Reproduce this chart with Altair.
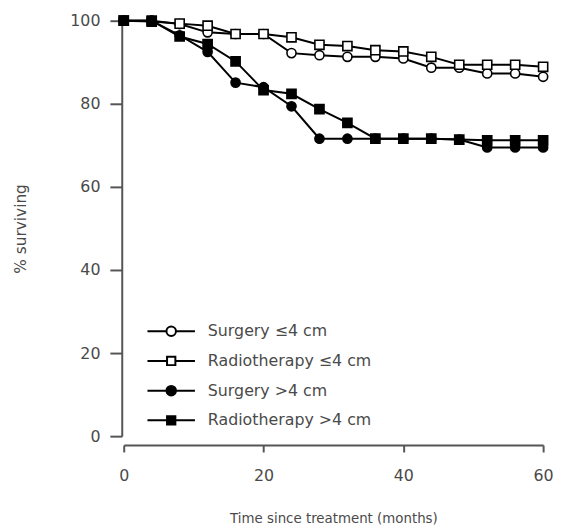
import altair as alt
import pandas as pd

months = [0, 4, 8, 12, 16, 20, 24, 28, 32, 36, 40, 44, 48, 52, 56, 60]
surgery_small = [100, 100, 99.2, 97.2, 96.8, 96.8, 92.2, 91.7, 91.3, 91.3, 90.9, 88.7, 88.7, 87.3, 87.3, 86.5]
radio_small = [100, 99.8, 99.3, 98.8, 96.8, 96.8, 96.0, 94.2, 93.9, 92.9, 92.6, 91.3, 89.4, 89.4, 89.4, 88.9]
surgery_large = [100, 100, 96.5, 92.5, 85.1, 84.0, 79.4, 71.6, 71.6, 71.6, 71.6, 71.6, 71.4, 69.5, 69.5, 69.5]
radio_large = [100, 100, 96.2, 94.4, 90.2, 83.3, 82.4, 78.7, 75.4, 71.6, 71.6, 71.6, 71.4, 71.2, 71.2, 71.2]

series_names = ["Surgery ≤4 cm", "Radiotherapy ≤4 cm", "Surgery >4 cm", "Radiotherapy >4 cm"]
series_values = [surgery_small, radio_small, surgery_large, radio_large]
x_ticks = [0, 20, 40, 60]
y_ticks = [0, 20, 40, 60, 80, 100]

rows = []
for name, vals in zip(series_names, series_values):
    for m, v in zip(months, vals):
        rows.append({"series": name, "month": m, "pct": v})
df = pd.DataFrame(rows)

FONT = "DejaVu Sans"
TXT = "#4a4a4a"

x_enc = alt.X("month:Q", scale=alt.Scale(domain=[0, 60], nice=False),
              axis=alt.Axis(values=x_ticks, title="Time since treatment (months)",
                            offset=9, tickSize=7, labelPadding=16, titlePadding=28,
                            labelFlush=False, titleFontSize=13.5))
y_enc = alt.Y("pct:Q", scale=alt.Scale(domain=[0, 100], nice=False),
              axis=alt.Axis(values=y_ticks, title="% surviving", offset=2,
                            tickSize=12, labelPadding=10, titlePadding=42,
                            titleFontSize=15.5))

marker_shapes = ["circle", "square", "circle", "square"]
marker_fills = ["white", "white", "black", "black"]
marker_strokes = ["black", "black", "black", "black"]

circ_path = "M-2.4,0H-0.48M0.48,0H2.4M0.48,0A0.48,0.48,0,1,1,-0.48,0A0.48,0.48,0,1,1,0.48,0Z"
sq_path = "M-2.4,0H-0.42M0.42,0H2.4M-0.42,-0.42H0.42V0.42H-0.42Z"
legend_paths = [circ_path, sq_path, circ_path, sq_path]

lines = alt.Chart(df).mark_line(color="black", strokeWidth=2).encode(
    x=x_enc, y=y_enc, detail="series:N", order="month:Q"
)

points = alt.Chart(df).mark_point(filled=True, stroke="black", strokeWidth=1.6, size=85, opacity=1).encode(
    x=x_enc, y=y_enc,
    shape=alt.Shape("series:N", scale=alt.Scale(domain=series_names, range=marker_shapes), legend=None),
    fill=alt.Fill("series:N", scale=alt.Scale(domain=series_names, range=marker_fills), legend=None),
)

leg = alt.Legend(title=None, orient="none", legendX=37, legendY=303,
                 symbolSize=400, symbolOpacity=1,
                 symbolStrokeColor="black", symbolStrokeWidth=2,
                 labelFontSize=16, labelColor=TXT, labelFont=FONT, labelOffset=26,
                 rowPadding=10, labelLimit=300)

legend_layer = alt.Chart(df).transform_filter("false").mark_point(
    filled=True, strokeWidth=2
).encode(
    x=x_enc, y=y_enc,
    shape=alt.Shape("series:N", scale=alt.Scale(domain=series_names, range=legend_paths), legend=leg),
    fill=alt.Fill("series:N", scale=alt.Scale(domain=series_names, range=marker_fills), legend=leg),
    stroke=alt.Stroke("series:N", scale=alt.Scale(domain=series_names, range=marker_strokes), legend=leg),
)

chart = alt.layer(lines, points, legend_layer).resolve_scale(
    shape="independent", fill="independent", stroke="independent"
).properties(
    width=424, height=420,
    autosize=alt.AutoSizeParams(type="none"),
    padding={"left": 117, "top": 10, "right": 12, "bottom": 90},
).configure_view(stroke=None).configure_axis(
    grid=False, domainColor="#555555", domainWidth=2, tickColor="#555555", tickWidth=2,
    labelFont=FONT, labelFontSize=16, labelColor=TXT,
    titleFont=FONT, titleColor=TXT, titleFontWeight="normal",
)

chart.save("out.html", embed_options={"renderer": "svg", "actions": False})
